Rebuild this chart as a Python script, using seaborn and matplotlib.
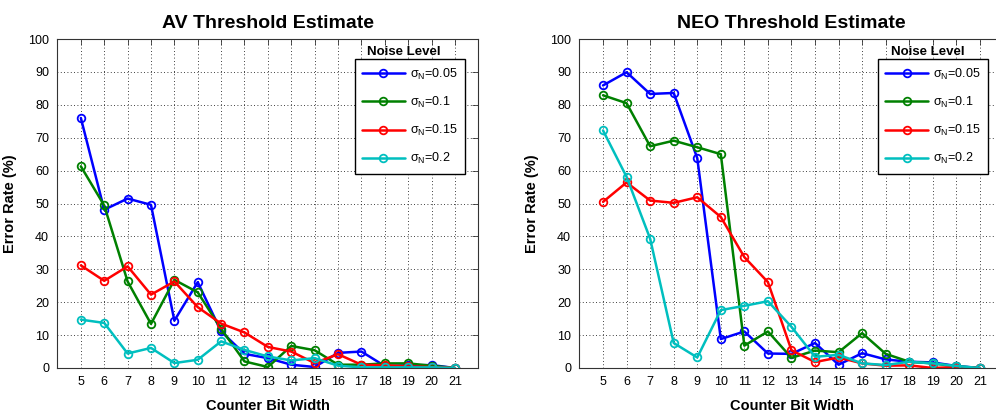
import pandas as pd
import numpy as np
import seaborn as sns
import matplotlib.pyplot as plt

# counter bit widths on the x axis
bit_width = list(range(5, 22))
noise_labels = ["σ$_{\\mathrm{N}}$=0.05", "σ$_{\\mathrm{N}}$=0.1",
                "σ$_{\\mathrm{N}}$=0.15", "σ$_{\\mathrm{N}}$=0.2"]
colors = ["#0000ff", "#008000", "#ff0000", "#00bfbf"]

# AV threshold estimate, error rate (%)
av_005 = [76.0, 48.1, 51.5, 49.6, 14.4, 26.1, 11.1, 4.3, 3.0, 1.0, 0.3, 4.6, 5.0, 0.6, 0.8, 0.9, 0.0]
av_010 = [61.3, 49.4, 26.3, 13.4, 26.8, 23.0, 11.9, 2.0, 0.3, 6.7, 5.4, 1.0, 1.0, 1.4, 1.4, 0.7, 0.0]
av_015 = [31.2, 26.5, 30.9, 22.3, 26.3, 18.5, 13.5, 10.8, 6.4, 5.0, 1.5, 4.2, 1.0, 0.8, 0.5, 0.3, 0.0]
av_020 = [14.7, 13.7, 4.4, 6.1, 1.5, 2.5, 8.1, 5.5, 3.5, 2.3, 3.0, 0.7, 0.2, 0.2, 0.2, 0.2, 0.0]

# NEO threshold estimate, error rate (%)
neo_005 = [85.9, 89.9, 83.3, 83.6, 63.8, 8.8, 11.1, 4.4, 4.3, 7.6, 1.0, 4.5, 2.6, 1.9, 1.7, 0.6, 0.0]
neo_010 = [82.9, 80.5, 67.4, 69.1, 67.1, 65.0, 6.8, 11.1, 3.1, 5.3, 4.8, 10.6, 4.3, 1.9, 1.4, 0.5, 0.0]
neo_015 = [50.5, 56.4, 50.9, 50.2, 51.9, 45.9, 33.7, 26.1, 5.4, 1.8, 3.2, 1.4, 0.7, 0.8, 0.0, 0.3, 0.0]
neo_020 = [72.2, 58.1, 39.3, 7.6, 3.2, 17.6, 18.9, 20.3, 12.5, 3.4, 4.0, 1.4, 0.9, 1.9, 1.4, 0.6, 0.0]

sns.set_style("white")
plt.rcParams["font.family"] = ["Liberation Sans", "DejaVu Sans"]
plt.rcParams["mathtext.fontset"] = "custom"
plt.rcParams["mathtext.rm"] = "Liberation Sans"
plt.rcParams["mathtext.it"] = "Liberation Sans:italic"
# matlab-ish black text instead of seaborn's dark grey
for key in ["text.color", "axes.labelcolor", "xtick.color", "ytick.color"]:
    plt.rcParams[key] = "black"

fig = plt.figure(figsize=(9.96, 4.12), dpi=100)
ax_left = fig.add_axes([0.0577, 0.1068, 0.4225, 0.7985])
ax_right = fig.add_axes([0.5818, 0.1068, 0.4257, 0.7985])

panels = [
    (ax_left, "AV Threshold Estimate", [av_005, av_010, av_015, av_020], 0.706),
    (ax_right, "NEO Threshold Estimate", [neo_005, neo_010, neo_015, neo_020], 0.704),
]

for ax, title, series, leg_x in panels:
    for vals, lab, c in zip(series, noise_labels, colors):
        sns.lineplot(x=bit_width, y=vals, ax=ax, color=c, lw=1.8,
                     marker="o", ms=5.5, mfc="none", mec=c, mew=1.3,
                     label=lab)

    ax.set_xlim(4, 22)
    ax.set_ylim(0, 100)
    ax.set_xticks(bit_width)
    ax.set_yticks(range(0, 101, 10))
    ax.tick_params(direction="in", top=True, right=True, labelsize=9,
                   length=4, width=0.6, color="#333333", pad=6)
    ax.grid(True, color="black", linestyle=(0, (1, 3)), linewidth=0.6)
    for sp in ax.spines.values():
        sp.set_color("#333333")
        sp.set_linewidth(0.8)

    ax.set_title(title, fontsize=14, fontweight="bold", pad=8)
    ax.set_xlabel("Counter Bit Width", fontsize=10.5, fontweight="bold",
                  labelpad=8)
    ax.set_ylabel("Error Rate (%)", fontsize=10.5, fontweight="bold",
                  labelpad=8)

    leg = ax.legend(loc="upper left", bbox_to_anchor=(leg_x, 0.939),
                    borderaxespad=0, fontsize=9, frameon=True,
                    fancybox=False, edgecolor="black", framealpha=1,
                    handlelength=3.4, labelspacing=1.05,
                    borderpad=0.6, handletextpad=0.4)
    leg.get_frame().set_linewidth(1.0)
    ax.text(leg_x + 0.118, 0.962, "Noise Level", transform=ax.transAxes,
            ha="center", va="center", fontsize=9.5, fontweight="bold")

fig.savefig("out.png", dpi=100)
